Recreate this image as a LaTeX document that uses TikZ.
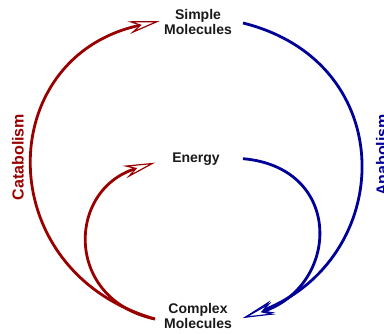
\documentclass[tikz,border=0pt]{standalone}
\usepackage{fontspec}
\setmainfont{Liberation Sans}
\usetikzlibrary{arrows.meta}
\definecolor{catred}{RGB}{153,0,0}
\definecolor{anablue}{RGB}{0,0,153}
\begin{document}
\begin{tikzpicture}[x=1pt,y=1pt,
  lbl/.style={font=\fontsize{14}{12.7}\selectfont\bfseries, text=black!90, align=center, inner sep=2pt},
  side/.style={font=\fontsize{16}{16}\selectfont\bfseries, rotate=90, inner sep=0pt},
  flow/.style={line width=2.8pt},
  tipc/.style={-{Stealth[open,fill=white,length=32pt,width=13pt,inset=11pt,line width=1.2pt]}}]
\useasboundingbox (0,0) rectangle (384,333);
\node[lbl] (sm) at (198,311) {Simple\\Molecules};
\node[lbl, anchor=base] (en) at (196,171) {Energy};
\node[lbl] (cm) at (198,17) {Complex\\Molecules};
\node[side, text=catred] (cat) at (18,176) {Catabolism};
\node[side, text=anablue] (ana) at (382,178) {Anabolism};
% catabolism
\draw[flow, catred, tipc] ([shift={(-7,-3)}]cm.west) to[out=164,in=192,looseness=1.47] ([shift={(-2,1)}]sm.west);
\draw[flow, catred, tipc] ([shift={(-7,-3)}]cm.west) to[out=168,in=197,looseness=1.52] ([shift={(-15,-4)}]en.west);
% anabolism
\draw[flow, anablue, tipc] ([shift={(9,-1)}]sm.east) to[out=-14,in=21,looseness=1.42] ([shift={(9,-2)}]cm.east);
\draw[flow, anablue, tipc] ([shift={(21,0)}]en.east) to[out=-5,in=18,looseness=1.64] ([shift={(9,-2)}]cm.east);
\end{tikzpicture}
\end{document}
